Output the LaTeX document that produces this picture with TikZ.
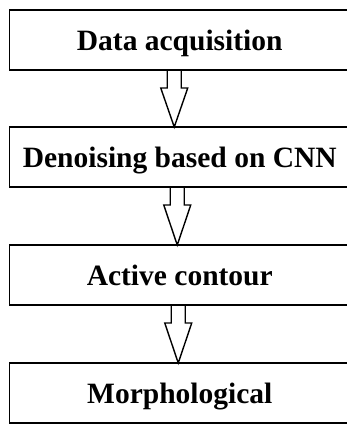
\documentclass[tikz,border=0pt]{standalone}
\usepackage{fontspec}
\setmainfont{Liberation Serif}
\usepackage{tikz}
\usetikzlibrary{positioning}
\usetikzlibrary{calc}

% hollow block arrow from the bottom of one box to the top of the next
\newcommand{\flowarrow}[3][0pt]{%
  \draw[flow] let \p1=(#2.south), \p2=(#3.north) in
    (\x1+#1-7pt,\y1) -- (\x1+#1-7pt,\y1-18pt) -- (\x1+#1-13.5pt,\y1-18pt)
    -- (\x1+#1,\y2) -- (\x1+#1+13.5pt,\y1-18pt) -- (\x1+#1+7pt,\y1-18pt)
    -- (\x1+#1+7pt,\y1);
}

\begin{document}
\begin{tikzpicture}[
  stage/.style={rectangle, draw, line width=1.9pt, minimum width=340.5pt, minimum height=60pt,
    inner sep=0pt, outer sep=0pt, text height=21pt, text depth=0pt,
    font=\fontsize{29.5}{34}\selectfont\bfseries},
  flow/.style={draw, line width=1.4pt, line join=miter}
]
\useasboundingbox (0,0) rectangle (347pt,425pt);

% Stages
\node[stage, anchor=north west] (acquire) at (9.5pt,415pt) {Data acquisition};
\node[stage, below=57pt of acquire] (denoise) {Denoising based on CNN\hspace{9pt}};
\node[stage, below=58pt of denoise] (contour) {Active contour\hspace{11pt}};
\node[stage, below=58pt of contour] (morph) {Morphological};

% Arrows
\flowarrow[-5.5pt]{acquire}{denoise}
\flowarrow[-2.5pt]{denoise}{contour}
\flowarrow[-1.5pt]{contour}{morph}

\end{tikzpicture}
\end{document}
